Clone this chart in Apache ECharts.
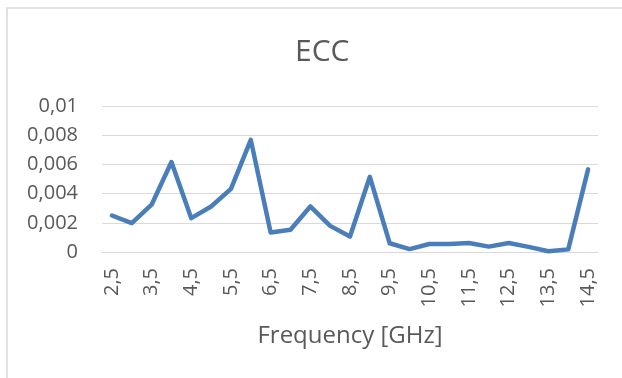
<!DOCTYPE html>
<html>
<head>
<meta charset="utf-8">
<script src="https://cdn.jsdelivr.net/npm/echarts@6/dist/echarts.min.js"></script>
<style>
html,body{margin:0;padding:0;background:#fff;}
#c{width:622px;height:378px;}
</style>
</head>
<body>
<div id="c"></div>
<script>
var categories = ['2,5','3','3,5','4','4,5','5','5,5','6','6,5','7','7,5','8','8,5','9','9,5','10','10,5','11','11,5','12','12,5','13','13,5','14','14,5'];
var eccValues = [0.0025,0.00198,0.00324,0.00616,0.00232,0.00312,0.00432,0.00768,0.00133,0.00152,0.00312,0.00179,0.00106,0.00515,0.0006,0.0002,0.00055,0.00055,0.00062,0.00037,0.00062,0.00035,0.00005,0.00018,0.00566];
var yTickLabels = ['0','0,002','0,004','0,006','0,008','0,01'];
var titleText = 'ECC';
var xAxisTitle = 'Frequency [GHz]';

var FONT = '"Open Sans", "Noto Sans", sans-serif';
var chart = echarts.init(document.getElementById('c'), null, {renderer:'canvas'});
chart.setOption({
  animation: false,
  backgroundColor: '#ffffff',
  title: {
    text: titleText,
    left: 290, top: 32,
    textStyle: {fontFamily: FONT, fontSize: 30, fontWeight: 'normal', color: '#595959'}
  },
  graphic: [{
    type: 'rect',
    shape: {x: 7, y: 8, width: 700, height: 500},
    style: {fill: 'none', stroke: '#d9d9d9', lineWidth: 1.5},
    silent: true
  }],
  grid: {left: 102, right: 24, top: 106, bottom: 126, containLabel: false},
  xAxis: {
    type: 'category',
    data: categories,
    boundaryGap: true,
    axisLine: {show: true, lineStyle: {color: '#d9d9d9', width: 1}},
    axisTick: {show: false},
    axisLabel: {
      interval: 1, rotate: 90, margin: 16,
      fontFamily: FONT, fontSize: 20, color: '#595959'
    },
    name: xAxisTitle,
    nameLocation: 'middle',
    nameGap: 72,
    nameTextStyle: {fontFamily: FONT, fontSize: 24, color: '#595959'}
  },
  yAxis: {
    type: 'value',
    min: 0, max: 0.01, interval: 0.002,
    axisLine: {show: false},
    axisTick: {show: false},
    splitLine: {lineStyle: {color: '#d9d9d9', width: 1}},
    axisLabel: {
      margin: 24,
      fontFamily: FONT, fontSize: 20, color: '#595959',
      formatter: function (v) {
        var i = Math.round(v / 0.002);
        return yTickLabels[i] !== undefined ? yTickLabels[i] : '';
      }
    }
  },
  series: [{
    type: 'line',
    data: eccValues,
    showSymbol: false,
    symbol: 'none',
    lineStyle: {color: '#4a7ebb', width: 4.5, join: 'round', cap: 'round'},
    itemStyle: {color: '#4a7ebb'}
  }]
});
</script>
</body>
</html>
